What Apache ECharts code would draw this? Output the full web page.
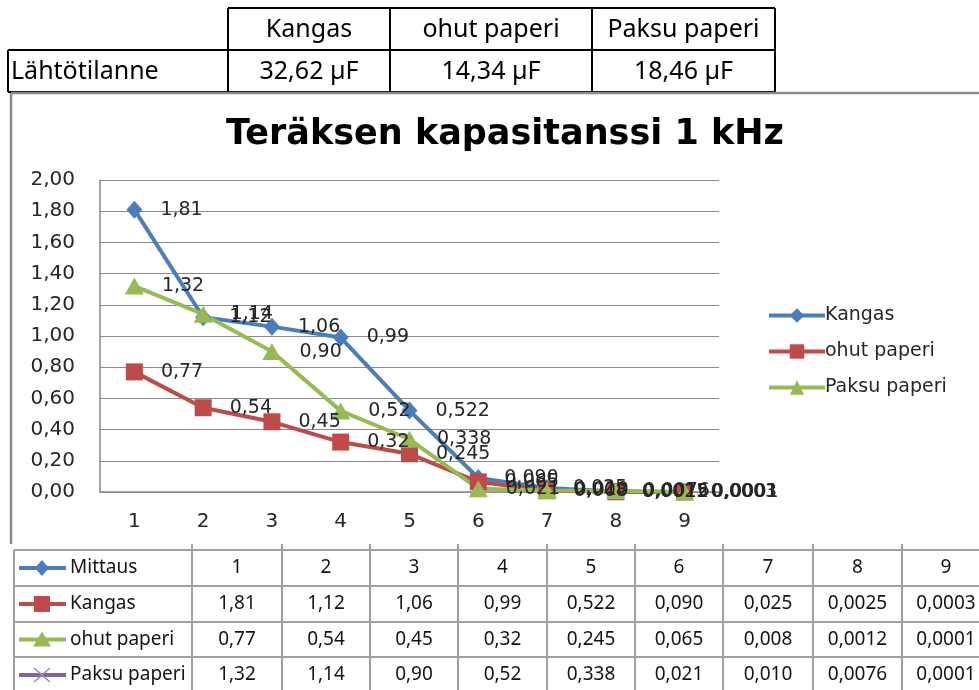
<!DOCTYPE html>
<html>
<head>
<meta charset="utf-8">
<script src="https://cdn.jsdelivr.net/npm/echarts@6/dist/echarts.min.js"></script>
<style>
html,body{margin:0;padding:0;background:#fff;}
#main{width:979px;height:690px;}
</style>
</head>
<body>
<div id="main"></div>
<script>
// ---- data ----
const categories = ['1', '2', '3', '4', '5', '6', '7', '8', '9'];
const seriesNames = ['Kangas', 'ohut paperi', 'Paksu paperi'];
const kangasText = ['1,81', '1,12', '1,06', '0,99', '0,522', '0,090', '0,025', '0,0025', '0,0003'];
const ohutText = ['0,77', '0,54', '0,45', '0,32', '0,245', '0,065', '0,008', '0,0012', '0,0001'];
const paksuText = ['1,32', '1,14', '0,90', '0,52', '0,338', '0,021', '0,010', '0,0076', '0,0001'];
const chartTitle = 'Teräksen kapasitanssi 1 kHz';
const yMin = 0, yMax = 2, yStep = 0.2;

// top table (starting values)
const startHeaders = ['Kangas', 'ohut paperi', 'Paksu paperi'];
const startRowLabel = 'Lähtötilanne';
const startValues = ['32,62 µF', '14,34 µF', '18,46 µF'];

// bottom data table
const tableRowLabels = ['Mittaus', 'Kangas', 'ohut paperi', 'Paksu paperi'];
const tableRows = [categories, kangasText, ohutText, paksuText];

// ---- styles ----
const colors = ['#4A7EBB', '#BE4B48', '#98B954'];
const symbols = ['diamond', 'rect', 'triangle'];
const symbolSizes = [[16, 18], 17, [19, 17]];
const keyColors = ['#4A7EBB', '#BE4B48', '#98B954', '#8064A2'];
const FONT = 'DejaVu Sans';
const TFONT = 'Noto Sans';
const txt = '#262626';

const toNum = s => parseFloat(s.replace(',', '.'));
const seriesText = [kangasText, ohutText, paksuText];

const graphics = [];
function line(x1, y1, x2, y2, stroke, w) {
  graphics.push({type: 'line', silent: true, shape: {x1, y1, x2, y2}, style: {stroke, lineWidth: w}});
}
function text(s, x, y, font, align, fill) {
  graphics.push({type: 'text', silent: true, style: {text: s, x, y, font, textAlign: align, textVerticalAlign: 'middle', fill: fill || '#000'}});
}

// top table
const tCols = [8, 228, 390, 592, 775];
const tRows = [8, 50, 92];
line(228, tRows[0], tCols[4], tRows[0], '#000', 2);
line(tCols[0], tRows[1], tCols[4], tRows[1], '#000', 2);
line(tCols[0], tRows[2], tCols[4], tRows[2], '#000', 2);
for (let i = 1; i < tCols.length; i++) line(tCols[i], tRows[0], tCols[i], tRows[2], '#000', 2);
line(tCols[0], tRows[1], tCols[0], tRows[2], '#000', 2);
const tFont = '25px "' + TFONT + '"';
startHeaders.forEach((h, i) => text(h, (tCols[i + 1] + tCols[i + 2]) / 2, (tRows[0] + tRows[1]) / 2 + 1, tFont, 'center'));
text(startRowLabel, 11, (tRows[1] + tRows[2]) / 2 + 1, tFont, 'left');
startValues.forEach((v, i) => text(v, (tCols[i + 1] + tCols[i + 2]) / 2, (tRows[1] + tRows[2]) / 2 + 1, tFont, 'center'));

// chart frame
line(11, 93, 979, 93, '#8a8a8a', 2.5);
line(11, 93, 11, 544, '#8a8a8a', 2.5);

// bottom data table
const bCols = [14, 192, 282, 370, 458, 547, 635, 723, 813, 902, 990];
const bRows = [550, 586, 622, 657, 693];
const gridC = '#a0a0a0';
const bFont = '19px "' + TFONT + '"';
bRows.forEach(y => line(bCols[0], y, 979, y, gridC, 2));
bCols.forEach((x, i) => line(x, i === 0 ? bRows[0] : 544, x, bRows[4], gridC, 2));
tableRows.forEach((row, r) => {
  const cy = (bRows[r] + bRows[r + 1]) / 2;
  text(tableRowLabels[r], 70, cy, bFont, 'left', '#141414');
  row.forEach((v, c) => text(v, (bCols[c + 1] + bCols[c + 2]) / 2, cy, bFont, 'center', '#141414'));
  // legend key
  const kc = keyColors[r];
  line(19, cy, 66, cy, kc, 4);
  const mx = 42;
  if (r === 0) graphics.push({type: 'polygon', silent: true, shape: {points: [[mx, cy - 8], [mx + 7, cy], [mx, cy + 8], [mx - 7, cy]]}, style: {fill: kc}});
  if (r === 1) graphics.push({type: 'rect', silent: true, shape: {x: mx - 8, y: cy - 8, width: 16, height: 16}, style: {fill: kc}});
  if (r === 2) graphics.push({type: 'polygon', silent: true, shape: {points: [[mx, cy - 8], [mx + 9, cy + 7], [mx - 9, cy + 7]]}, style: {fill: kc}});
  if (r === 3) {
    line(mx - 8, cy - 7, mx + 8, cy + 7, '#9c86bd', 1.5);
    line(mx - 8, cy + 7, mx + 8, cy - 7, '#9c86bd', 1.5);
  }
});

const series = seriesNames.map((name, i) => ({
  name,
  type: 'line',
  data: seriesText[i].map(toNum),
  symbol: symbols[i],
  symbolSize: symbolSizes[i],
  lineStyle: {color: colors[i], width: 4},
  itemStyle: {color: colors[i]},
  label: {
    show: true,
    position: 'right',
    distance: 18,
    fontFamily: FONT,
    fontSize: 19,
    color: txt,
    formatter: p => seriesText[i][p.dataIndex]
  },
  emphasis: {disabled: true},
  animation: false
}));

const chart = echarts.init(document.getElementById('main'), null, {renderer: 'canvas'});
chart.setOption({
  backgroundColor: '#fff',
  animation: false,
  title: {
    text: chartTitle,
    left: 500,
    textAlign: 'center',
    top: 112,
    textStyle: {fontFamily: FONT, fontWeight: 'bold', fontSize: 35, color: '#000'}
  },
  legend: {
    orient: 'vertical',
    left: 762,
    top: 301,
    itemWidth: 56,
    itemHeight: 18,
    itemGap: 17,
    lineStyle: {width: 4},
    textStyle: {fontFamily: FONT, fontSize: 19, color: txt, padding: [0, 0, 0, -5]},
    data: seriesNames
  },
  grid: {left: 100, right: 260, top: 180, bottom: 198, containLabel: false},
  xAxis: {
    type: 'category',
    data: categories,
    boundaryGap: true,
    axisLine: {lineStyle: {color: '#8a8a8a', width: 1.5}},
    axisTick: {show: false},
    axisLabel: {fontFamily: FONT, fontSize: 20, color: txt, margin: 20}
  },
  yAxis: {
    type: 'value',
    min: yMin,
    max: yMax,
    interval: yStep,
    axisLine: {show: true, lineStyle: {color: '#8a8a8a', width: 1.5}},
    axisTick: {show: false},
    splitLine: {lineStyle: {color: '#8a8a8a', width: 1.2}},
    axisLabel: {fontFamily: FONT, fontSize: 20, color: txt, margin: 25, formatter: v => v.toFixed(2).replace('.', ',')}
  },
  series,
  graphic: {elements: graphics}
});
</script>
</body>
</html>
